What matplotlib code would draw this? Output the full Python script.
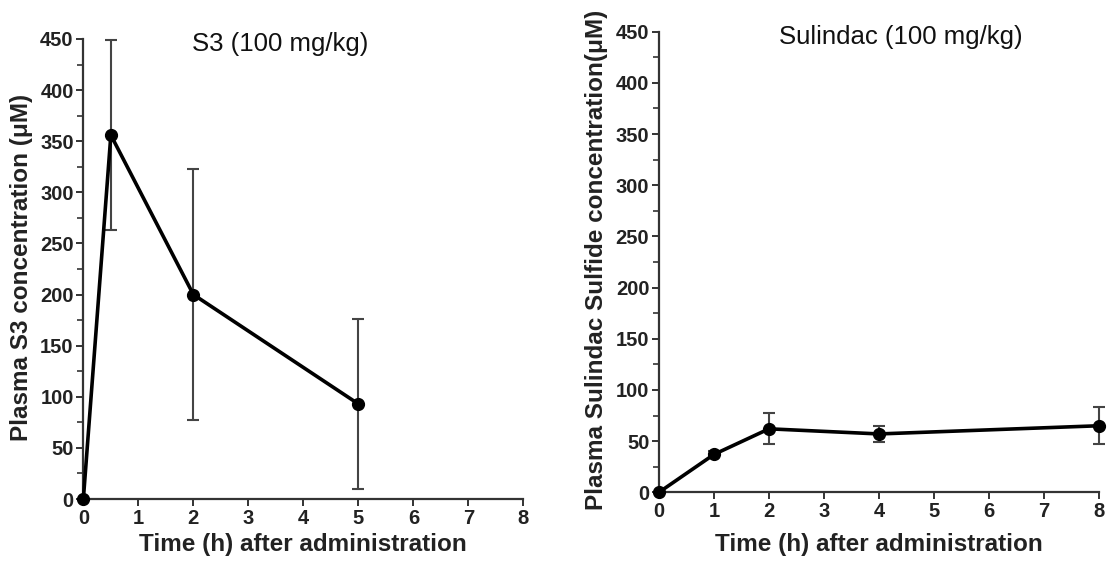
import matplotlib
matplotlib.use("Agg")
import matplotlib.pyplot as plt
from matplotlib.ticker import MultipleLocator

# S3 (100 mg/kg)
s3_time = [0, 0.5, 2, 5]
s3_conc = [0, 356, 200, 93]
s3_err = [0, 93, 123, 83]

# Sulindac (100 mg/kg) -> plasma sulindac sulfide
sul_time = [0, 1, 2, 4, 8]
sul_conc = [0, 37, 62, 57, 65]
sul_err = [0, 3, 15, 8, 18]

x_ticks = [0, 1, 2, 3, 4, 5, 6, 7, 8]
y_ticks = [0, 50, 100, 150, 200, 250, 300, 350, 400, 450]

plt.rcParams['font.family'] = ['Liberation Sans', 'DejaVu Sans']

fig = plt.figure(figsize=(11.07, 5.61), dpi=100)
ax1 = fig.add_axes([0.0753, 0.1105, 0.3975, 0.820])
ax2 = fig.add_axes([0.5953, 0.1225, 0.3975, 0.821])

axis_col = '#333333'
text_col = '#222222'


def style(ax, title, title_x, title_y, ylabel, xlabelpad):
    ax.set_xlim(0, 8)
    ax.set_ylim(0, 450)
    ax.set_xticks(x_ticks)
    ax.set_yticks(y_ticks)
    ax.yaxis.set_minor_locator(MultipleLocator(25))
    for s in ('top', 'right'):
        ax.spines[s].set_visible(False)
    for s in ('left', 'bottom'):
        ax.spines[s].set_color(axis_col)
        ax.spines[s].set_linewidth(1.6)
    ax.tick_params(axis='both', which='major', direction='out', length=5,
                   width=1.4, color=axis_col, labelsize=14.5, pad=2)
    ax.tick_params(axis='y', which='minor', direction='out', length=4,
                   width=1.2, color=axis_col)
    for lab in ax.get_xticklabels() + ax.get_yticklabels():
        lab.set_fontweight('bold')
        lab.set_color(text_col)
    ax.set_xlabel('Time (h) after administration', fontsize=17.5,
                  fontweight='bold', color=text_col, labelpad=xlabelpad)
    ax.set_ylabel(ylabel, fontsize=17.5, fontweight='bold', color=text_col)
    ax.text(title_x, title_y, title, transform=ax.transAxes, ha='center',
            va='center', fontsize=18.5, color='#111111')


ax1.errorbar(s3_time, s3_conc, yerr=s3_err, color='black', lw=2.6,
             marker='o', ms=8.5, ecolor='#444444', elinewidth=1.5,
             capsize=4.5, capthick=1.5, clip_on=False, zorder=3)
style(ax1, 'S3 (100 mg/kg)', 0.448, 0.99,
      'Plasma S3 concentration (\u03bcM)', 4)
ax1.yaxis.set_label_coords(-0.114, 0.503)

ax2.errorbar(sul_time, sul_conc, yerr=sul_err, color='black', lw=2.6,
             marker='o', ms=8.5, ecolor='#444444', elinewidth=1.5,
             capsize=4.5, capthick=1.5, clip_on=False, zorder=3)
style(ax2, 'Sulindac (100 mg/kg)', 0.55, 0.9885,
      'Plasma Sulindac Sulfide concentration(\u03bcM)', 9)
ax2.yaxis.set_label_coords(-0.116, 0.504)

fig.savefig('out.png', dpi=100)
